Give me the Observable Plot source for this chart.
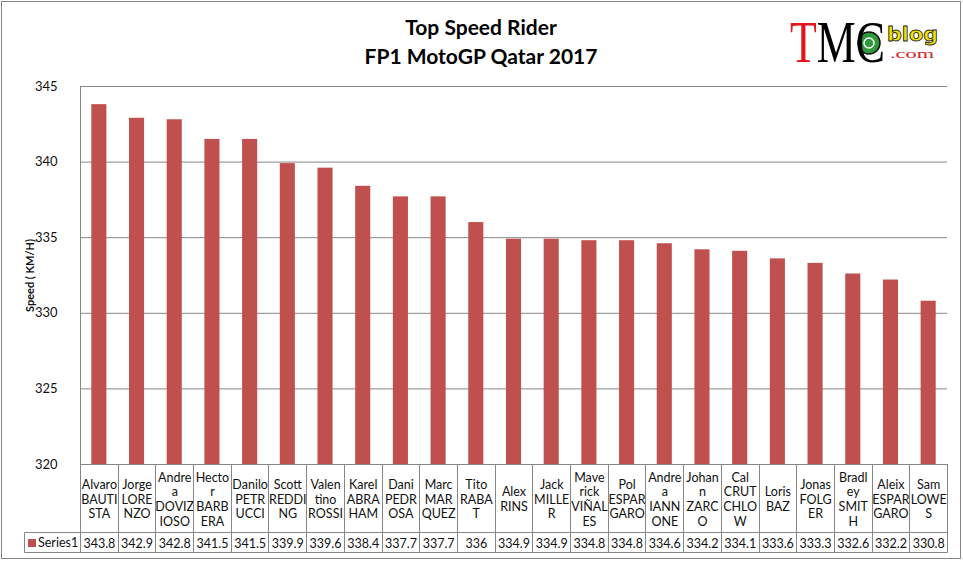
<!DOCTYPE html>
<html>
<head>
<meta charset="utf-8">
<script src="https://cdn.jsdelivr.net/npm/d3@7"></script>
<script src="https://cdn.jsdelivr.net/npm/@observablehq/plot@0.6"></script>
<style>
  html, body { margin: 0; padding: 0; background: #fff; }
  #wrap { position: relative; width: 963px; height: 563px; overflow: hidden; background: #fff; }
  #chart svg { position: absolute; left: 0; top: 0; }
  #border { position: absolute; left: 1px; top: 1px; width: 960px; height: 558px; box-sizing: border-box; border: 1px solid #868686; pointer-events: none; }
  .title { position: absolute; left: 0; width: 962px; text-align: center; font-family: Lato, "Open Sans", sans-serif; font-weight: bold; font-size: 21px; color: #000; line-height: 1; }
  #logo { position: absolute; left: 0; top: 0; }
</style>
</head>
<body>
<div id="wrap">
  <div id="chart"></div>
  <div class="title" style="top:16px;">Top Speed Rider</div>
  <div class="title" style="top:45px;">FP1 MotoGP Qatar 2017</div>
  <svg id="logo" width="963" height="80">
    <circle cx="869" cy="43" r="11" fill="#2f9a3c" stroke="#111" stroke-width="1.5"></circle>
    <circle cx="869" cy="43" r="5" fill="none" stroke="#fff" stroke-width="1.5"></circle>
    <text transform="translate(790,62) scale(0.73,1)" font-family="Liberation Serif, DejaVu Serif, serif" font-size="60"><tspan x="0" fill="#e3151a">T</tspan><tspan fill="#000">MC</tspan></text>
    <text x="887" y="41" font-family="DejaVu Sans, sans-serif" font-weight="bold" font-size="19" fill="#f2e300" stroke="#222" stroke-width="0.8" textLength="51" lengthAdjust="spacingAndGlyphs">blog</text>
    <text x="890" y="58" font-family="Liberation Serif, serif" font-size="12" fill="#d42222" textLength="44" lengthAdjust="spacingAndGlyphs">.com</text>
  </svg>
  <div id="border"></div>
</div>
<script>
// ---- data ----
const riders = [
  "Alvaro\nBAUTI\nSTA", "Jorge\nLORE\nNZO", "Andre\na\nDOVIZ\nIOSO", "Hecto\nr\nBARB\nERA",
  "Danilo\nPETR\nUCCI", "Scott\nREDDI\nNG", "Valen\ntino\nROSSI", "Karel\nABRA\nHAM",
  "Dani\nPEDR\nOSA", "Marc\nMAR\nQUEZ", "Tito\nRABA\nT", "Alex\nRINS",
  "Jack\nMILLE\nR", "Mave\nrick\nVIÑAL\nES", "Pol\nESPAR\nGARO", "Andre\na\nIANN\nONE",
  "Johan\nn\nZARC\nO", "Cal\nCRUT\nCHLO\nW", "Loris\nBAZ", "Jonas\nFOLG\nER",
  "Bradl\ney\nSMIT\nH", "Aleix\nESPAR\nGARO", "Sam\nLOWE\nS"
];
const speeds = [343.8, 342.9, 342.8, 341.5, 341.5, 339.9, 339.6, 338.4, 337.7, 337.7, 336,
  334.9, 334.9, 334.8, 334.8, 334.6, 334.2, 334.1, 333.6, 333.3, 332.6, 332.2, 330.8];
const yTicks = [320, 325, 330, 335, 340, 345];
const seriesName = "Series1";
const yLabel = "Speed ( KM/H)";

const rows = riders.map((r, i) => ({rider: r, speed: speeds[i]}));

const gray = "#868686";
const barColor = "#C0504D";
const font = "Lato, 'Open Sans', sans-serif";

const chart = Plot.plot({
  width: 963,
  height: 563,
  marginTop: 86,
  marginBottom: 99,
  marginLeft: 80,
  marginRight: 16,
  style: {fontFamily: font, background: "transparent", color: "#111", overflow: "visible"},
  x: {domain: riders, paddingInner: 0.6, paddingOuter: 0.3, round: false, axis: null},
  y: {domain: [320, 345], axis: null},
  marks: [
    Plot.gridY(yTicks.slice(1), {stroke: gray, strokeOpacity: 1}),
    Plot.barY(rows, {x: "rider", y1: 320, y2: "speed", fill: barColor}),
    Plot.axisY(yTicks, {tickSize: 0, tickPadding: 23, fontSize: 13, label: null, tickFormat: d => String(d)}),
    Plot.ruleY([320], {stroke: gray}),
    Plot.frame({anchor: "left", stroke: gray}),
    Plot.text([yLabel], {frameAnchor: "left", dx: -50, rotate: -90, textAnchor: "middle", text: d => d, fontWeight: "bold", fontSize: 11}),
    Plot.text(rows, {x: "rider", text: "rider", frameAnchor: "bottom", dy: 34.5, lineAnchor: "middle", lineHeight: 1.18, fontSize: 12.5}),
    Plot.text(rows, {x: "rider", text: d => String(d.speed), frameAnchor: "bottom", dy: 79, lineAnchor: "middle", fontSize: 12.5})
  ]
});
document.getElementById("chart").appendChild(chart);

// ---- data table grid (aligned to Plot's x scale) ----
const svg = d3.select(chart);
const sx = chart.scale("x");
const n = riders.length;
const step = sx.step != null ? sx.step : (sx.range[1] - sx.range[0]) / n;
const centers = riders.map((r, i) =>
  typeof sx.apply === "function" ? sx.apply(r) + sx.bandwidth / 2 : sx.range[0] + step * (i + 0.5));
const bounds = centers.map(c => c - step / 2).concat([centers[n - 1] + step / 2]);
const yTop = 464, yMid = 532.5, yBot = 552.5, xLeg = 24.5;
const g = svg.append("g").attr("stroke", gray).attr("stroke-width", 1).attr("fill", "none");
bounds.forEach(b => {
  const x = Math.round(b) + 0.5;
  g.append("line").attr("x1", x).attr("x2", x).attr("y1", yTop).attr("y2", yBot);
});
const xEnd = Math.round(bounds[n]) + 0.5;
g.append("line").attr("x1", xLeg).attr("x2", xEnd).attr("y1", yMid).attr("y2", yMid);
g.append("line").attr("x1", xLeg).attr("x2", xEnd).attr("y1", yBot).attr("y2", yBot);
g.append("line").attr("x1", xLeg).attr("x2", xLeg).attr("y1", yMid).attr("y2", yBot);
// legend key
svg.append("rect").attr("x", 28).attr("y", 539).attr("width", 8).attr("height", 8).attr("fill", barColor);
svg.append("text").attr("x", 38).attr("y", 543).attr("dy", "0.35em").attr("text-anchor", "start")
  .attr("font-family", font).attr("font-size", 12.5).attr("fill", "#111").text(seriesName);
</script>
</body>
</html>
